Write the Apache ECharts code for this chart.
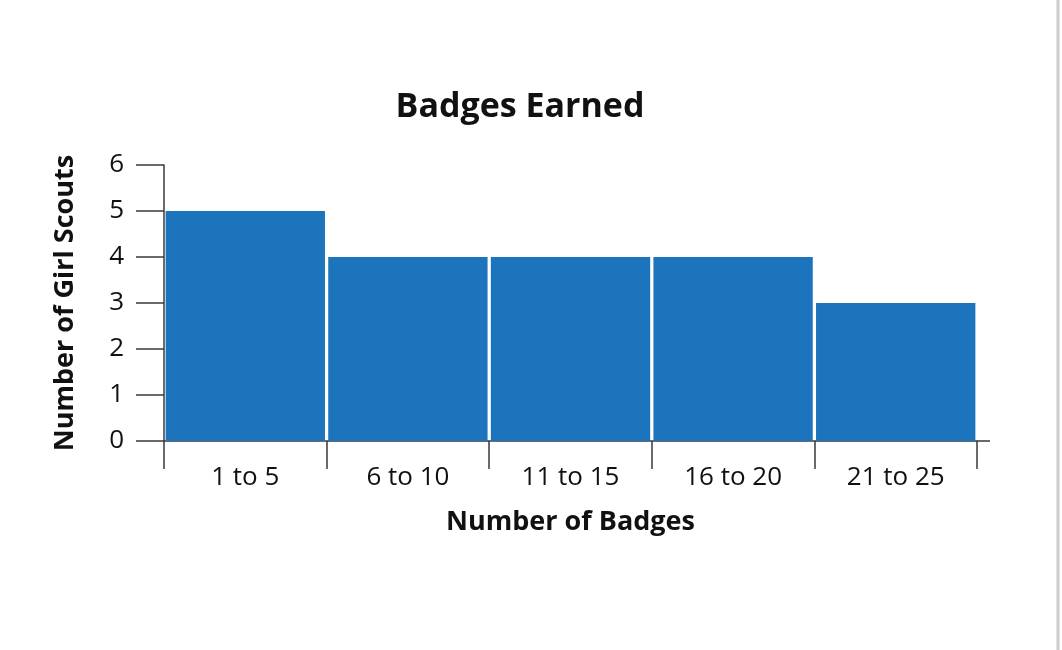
<!DOCTYPE html>
<html>
<head>
<meta charset="utf-8">
<script src="https://cdn.jsdelivr.net/npm/echarts@6/dist/echarts.min.js"></script>
<style>
  html, body { margin: 0; padding: 0; background: #fff; }
  #chart { width: 1062px; height: 650px; }
</style>
</head>
<body>
<div id="chart"></div>
<script>
var badgeRanges = ['1 to 5', '6 to 10', '11 to 15', '16 to 20', '21 to 25'];
var scoutCounts = [5, 4, 4, 4, 3];
var yTicks = [0, 6, 1]; // min, max, step

var chart = echarts.init(document.getElementById('chart'));
var font = '"Open Sans", sans-serif';
var ink = '#111111';

var option = {
  backgroundColor: '#ffffff',
  animation: false,
  title: {
    text: 'Badges Earned',
    left: 515,
    top: 85,
    textAlign: 'center',
    textStyle: { fontFamily: font, fontSize: 34, fontWeight: 'bold', color: ink }
  },
  grid: { left: 164, right: 85, top: 165, bottom: 209 },
  xAxis: {
    type: 'category',
    data: badgeRanges,
    name: 'Number of Badges',
    nameLocation: 'middle',
    nameGap: 68,
    nameTextStyle: { fontFamily: font, fontSize: 27, fontWeight: 'bold', color: ink },
    axisLine: { lineStyle: { color: '#3a3a3a', width: 1.5 } },
    axisTick: { show: true, interval: 0, alignWithLabel: false, length: 28, lineStyle: { color: '#3a3a3a', width: 1.5 } },
    axisLabel: { fontFamily: font, fontSize: 26, color: ink, margin: 24 }
  },
  yAxis: {
    type: 'value',
    min: yTicks[0],
    max: yTicks[1],
    interval: yTicks[2],
    name: 'Number of Girl Scouts',
    nameLocation: 'middle',
    nameGap: 85,
    nameTextStyle: { fontFamily: font, fontSize: 27, fontWeight: 'bold', color: ink },
    axisLine: { show: true, lineStyle: { color: '#3a3a3a', width: 1.5 } },
    axisTick: { show: true, length: 28, lineStyle: { color: '#3a3a3a', width: 1.5 } },
    axisLabel: { fontFamily: font, fontSize: 26, color: ink, margin: 40 },
    splitLine: { show: false }
  },
  series: [{
    type: 'bar',
    data: scoutCounts,
    barCategoryGap: '2%',
    itemStyle: { color: '#1c75bc' }
  }],
  graphic: [
    {
      type: 'line',
      shape: { x1: 977, y1: 441, x2: 990, y2: 441 },
      style: { stroke: '#3a3a3a', lineWidth: 1.5 }
    },
    {
      type: 'line',
      shape: { x1: 1058, y1: 0, x2: 1058, y2: 650 },
      style: { stroke: '#cccccc', lineWidth: 3 }
    }
  ]
};

chart.setOption(option);
</script>
</body>
</html>
